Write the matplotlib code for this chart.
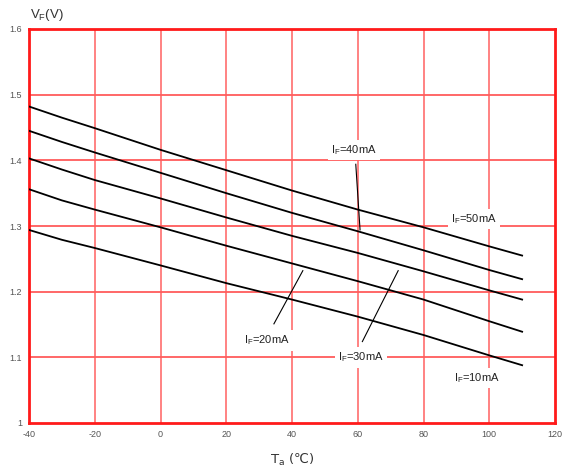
import matplotlib
matplotlib.use("Agg")
import matplotlib.pyplot as plt

plt.rcParams['font.family'] = ['Liberation Sans', 'DejaVu Sans']
plt.rcParams['axes.unicode_minus'] = False

# Data
temps = [-40, -30, -20, 0, 20, 40, 60, 80, 100, 110]
vf_50mA = [1.482, 1.465, 1.449, 1.416, 1.385, 1.354, 1.325, 1.298, 1.269, 1.255]
vf_40mA = [1.445, 1.428, 1.412, 1.381, 1.350, 1.320, 1.292, 1.263, 1.233, 1.219]
vf_30mA = [1.403, 1.386, 1.370, 1.342, 1.313, 1.285, 1.259, 1.231, 1.202, 1.188]
vf_20mA = [1.356, 1.339, 1.325, 1.298, 1.270, 1.243, 1.216, 1.188, 1.155, 1.139]
vf_10mA = [1.294, 1.279, 1.2665, 1.240, 1.213, 1.188, 1.162, 1.134, 1.103, 1.088]
series = [vf_50mA, vf_40mA, vf_30mA, vf_20mA, vf_10mA]

x_ticks = [-40, -20, 0, 20, 40, 60, 80, 100, 120]
y_ticks = [1.0, 1.1, 1.2, 1.3, 1.4, 1.5, 1.6]
y_tick_labels = ['1', '1.1', '1.2', '1.3', '1.4', '1.5', '1.6']

fig = plt.figure(figsize=(5.71, 4.75), dpi=100)
ax = fig.add_axes([29/571, 1-423/475, (555-29)/571, (423-29)/475])

ax.set_xlim(-40, 120)
ax.set_ylim(1.0, 1.6)
ax.set_xticks(x_ticks)
ax.set_yticks(y_ticks)
ax.set_yticklabels(y_tick_labels)
ax.tick_params(length=0, labelsize=6.5, labelcolor='#555555', pad=5)

for xv in x_ticks[1:-1]:
    ax.axvline(xv, color='#ff7878', lw=1.3, zorder=1)
for yv in y_ticks[1:-1]:
    ax.axhline(yv, color='#ff5c5c', lw=1.3, zorder=1)

for s in ax.spines.values():
    s.set_color('#ff1a1a')
    s.set_linewidth(2)

for vals in series:
    ax.plot(temps, vals, color='black', lw=1.3, zorder=3)

bbox = dict(facecolor='white', edgecolor='none', pad=2.5)
lab_kw = dict(fontsize=8, color='#222222', ha='center', va='center', zorder=4, bbox=bbox)
ax.text(58.9, 1.4155, r'I$_\mathregular{F}$=40mA', **lab_kw)
ax.text(95.4, 1.3105, r'I$_\mathregular{F}$=50mA', **lab_kw)
ax.text(32.4, 1.126, r'I$_\mathregular{F}$=20mA', **lab_kw)
ax.text(61.0, 1.100, r'I$_\mathregular{F}$=30mA', **lab_kw)
ax.text(96.3, 1.0685, r'I$_\mathregular{F}$=10mA', **lab_kw)

ax.plot([59.4, 60.7], [1.394, 1.294], color='black', lw=0.8, zorder=3)
ax.plot([34.5, 43.3], [1.151, 1.232], color='black', lw=0.8, zorder=3)
ax.plot([61.4, 72.3], [1.124, 1.232], color='black', lw=0.8, zorder=3)

fig.text(30/571, 1-15/475, r'V$_\mathregular{F}$(V)', fontsize=9.5, color='#333333', ha='left', va='center')
fig.text(292/571, 1-460/475, r'T$_\mathregular{a}$ (' + '\u2103' + ')', fontsize=9.5, color='#333333',
         ha='center', va='center', family=['DejaVu Sans'])

fig.savefig('out.png', dpi=100)
